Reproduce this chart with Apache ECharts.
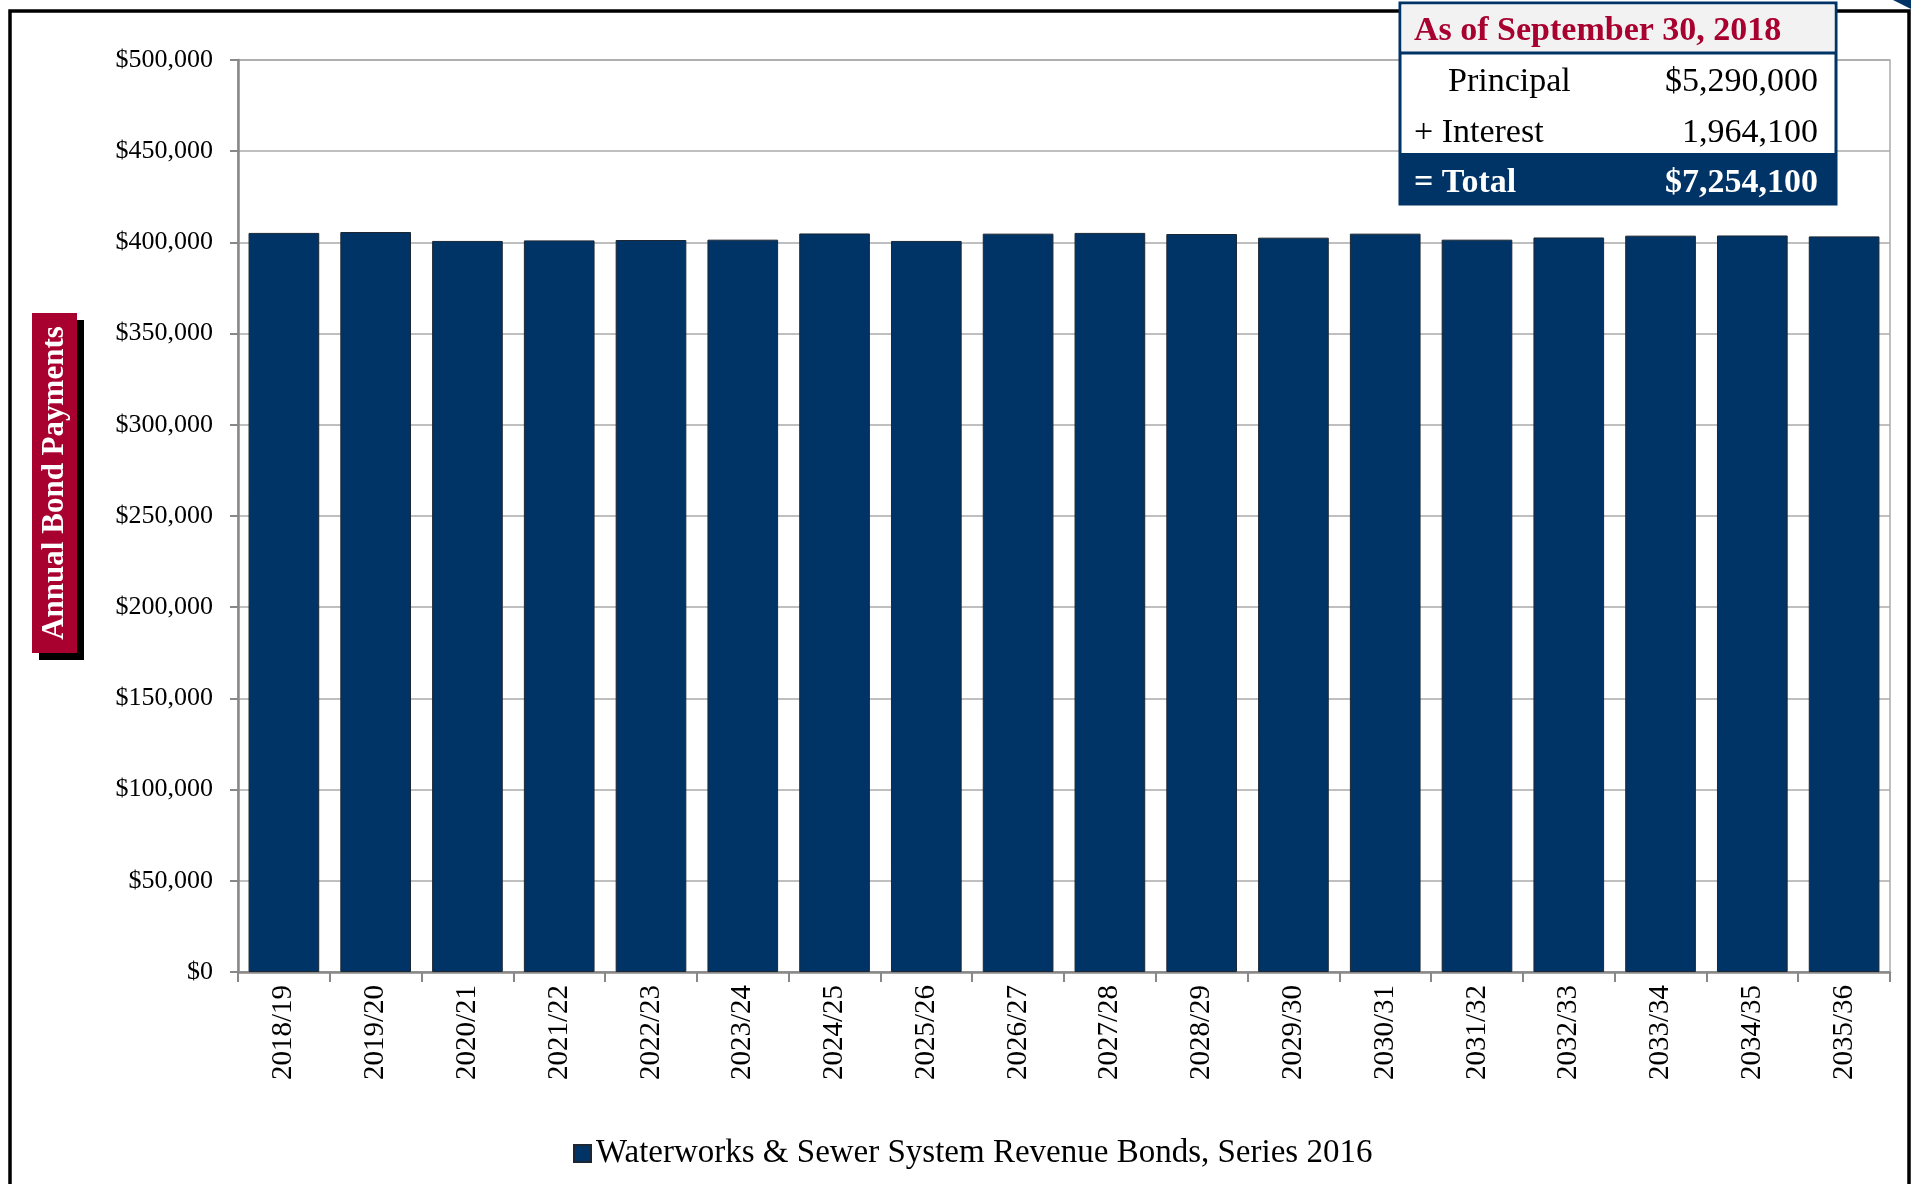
<!DOCTYPE html>
<html>
<head>
<meta charset="utf-8">
<script src="https://cdn.jsdelivr.net/npm/echarts@6/dist/echarts.min.js"></script>
<style>
html,body{margin:0;padding:0;background:#fff;}
#chart{width:1911px;height:1184px;}
</style>
</head>
<body>
<div id="chart"></div>
<script>
const categories = ['2018/19','2019/20','2020/21','2021/22','2022/23','2023/24','2024/25','2025/26','2026/27','2027/28','2028/29','2029/30','2030/31','2031/32','2032/33','2033/34','2034/35','2035/36'];
const payments = [405200, 405700, 400800, 401100, 401300, 401500, 404900, 400800, 404800, 405200, 404600, 402600, 404800, 401500, 402700, 403700, 403800, 403300];
const seriesName = 'Waterworks & Sewer System Revenue Bonds, Series 2016';
const yAxisTitle = 'Annual Bond Payments';
const summaryTitle = 'As of September 30, 2018';
const summaryLabels = ['Principal', '+ Interest', '= Total'];
const summaryValues = ['$5,290,000', '1,964,100', '$7,254,100'];

const SERIF = '"Liberation Serif", "DejaVu Serif", serif';
const NAVY = '#003366';
const RED = '#a8002f';

const chart = echarts.init(document.getElementById('chart'), null, {renderer: 'canvas'});

const option = {
  backgroundColor: '#ffffff',
  animation: false,
  grid: {
    left: 238, right: 21, top: 60, bottom: 212,
    show: true, borderColor: '#aaaaaa', borderWidth: 1.5, backgroundColor: 'transparent'
  },
  legend: {
    show: true,
    bottom: 9,
    left: 568,
    itemWidth: 17, itemHeight: 17, itemGap: 8,
    icon: 'rect',
    textStyle: {fontFamily: SERIF, fontSize: 33, color: '#000'},
    data: [seriesName]
  },
  xAxis: {
    type: 'category',
    data: categories,
    axisLine: {show: true, lineStyle: {color: '#888888', width: 2.5}},
    axisTick: {show: true, alignWithLabel: false, length: 10, lineStyle: {color: '#888888', width: 2}},
    axisLabel: {rotate: 90, margin: 13, fontFamily: SERIF, fontSize: 29, color: '#000', interval: 0},
    splitLine: {show: false}
  },
  yAxis: {
    type: 'value',
    min: 0, max: 500000, interval: 50000,
    axisLine: {show: true, lineStyle: {color: '#888888', width: 2.5}},
    axisTick: {show: true, length: 8, lineStyle: {color: '#888888', width: 2}},
    axisLabel: {
      margin: 25, fontFamily: SERIF, fontSize: 26, color: '#000',
      formatter: function (v) { return '$' + v.toLocaleString('en-US'); }
    },
    splitLine: {show: true, lineStyle: {color: '#aaaaaa', width: 1.5}}
  },
  series: [{
    name: seriesName,
    type: 'bar',
    data: payments,
    barCategoryGap: '23%',
    itemStyle: {color: NAVY, borderColor: '#1c2733', borderWidth: 1}
  }],
  graphic: [
    // outer frame
    {type: 'rect', z: 1, shape: {x: 10, y: 11, width: 1899, height: 1200},
     style: {fill: 'none', stroke: '#000', lineWidth: 3.5}},
    {type: 'polygon', z: 1, shape: {points: [[1893, 0], [1911, 0], [1911, 9]]}, style: {fill: NAVY}},
    // y-axis title box with shadow
    {type: 'rect', z: 5, shape: {x: 39, y: 320, width: 45, height: 340}, style: {fill: '#000'}},
    {type: 'rect', z: 6, shape: {x: 32, y: 313, width: 45, height: 340}, style: {fill: RED}},
    {type: 'text', z: 7, x: 55, y: 483, rotation: Math.PI / 2,
     style: {text: yAxisTitle, fill: '#fff', font: 'bold 31px ' + SERIF, textAlign: 'center', textVerticalAlign: 'middle'}},
    // summary table
    {type: 'rect', z: 10, shape: {x: 1400, y: 3, width: 436, height: 201}, style: {fill: '#fff', stroke: NAVY, lineWidth: 3}},
    {type: 'rect', z: 11, shape: {x: 1401.5, y: 4.5, width: 433, height: 48}, style: {fill: '#f2f2f2'}},
    {type: 'line', z: 11, shape: {x1: 1400, y1: 53, x2: 1836, y2: 53}, style: {stroke: NAVY, lineWidth: 3}},
    {type: 'rect', z: 11, shape: {x: 1400, y: 153, width: 436, height: 51}, style: {fill: NAVY}},
    {type: 'text', z: 12, x: 1414, y: 31.5,
     style: {text: summaryTitle, fill: RED, font: 'bold 34px ' + SERIF, textAlign: 'left', textVerticalAlign: 'middle'}},
    {type: 'text', z: 12, x: 1448, y: 82.5,
     style: {text: summaryLabels[0], fill: '#000', font: '34px ' + SERIF, textAlign: 'left', textVerticalAlign: 'middle'}},
    {type: 'text', z: 12, x: 1818, y: 82.5,
     style: {text: summaryValues[0], fill: '#000', font: '34px ' + SERIF, textAlign: 'right', textVerticalAlign: 'middle'}},
    {type: 'text', z: 12, x: 1414, y: 133.5,
     style: {text: summaryLabels[1], fill: '#000', font: '34px ' + SERIF, textAlign: 'left', textVerticalAlign: 'middle'}},
    {type: 'text', z: 12, x: 1818, y: 133.5,
     style: {text: summaryValues[1], fill: '#000', font: '34px ' + SERIF, textAlign: 'right', textVerticalAlign: 'middle'}},
    {type: 'text', z: 12, x: 1414, y: 183.5,
     style: {text: summaryLabels[2], fill: '#fff', font: 'bold 34px ' + SERIF, textAlign: 'left', textVerticalAlign: 'middle'}},
    {type: 'text', z: 12, x: 1818, y: 183.5,
     style: {text: summaryValues[2], fill: '#fff', font: 'bold 34px ' + SERIF, textAlign: 'right', textVerticalAlign: 'middle'}}
  ]
};
chart.setOption(option);
</script>
</body>
</html>
